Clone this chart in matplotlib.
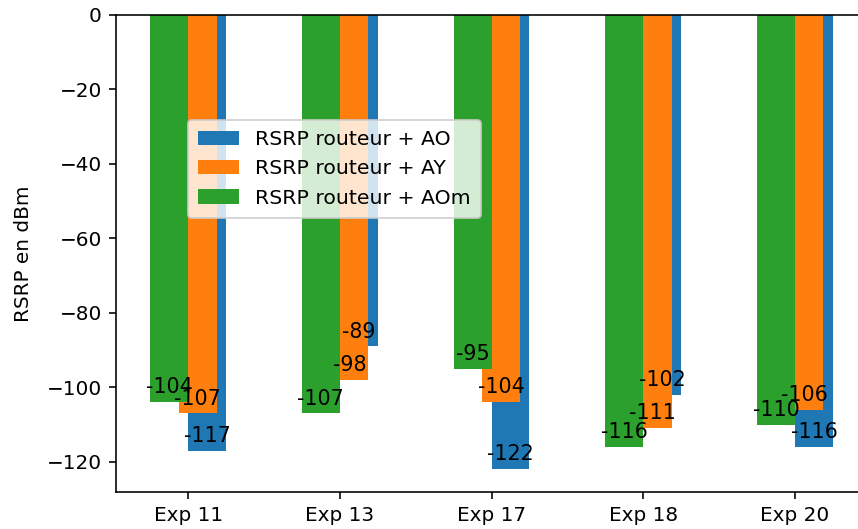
import numpy as np
import matplotlib
matplotlib.use("Agg")
import matplotlib.pyplot as plt

# experiments and RSRP values (dBm)
experiments = ["Exp 11", "Exp 13", "Exp 17", "Exp 18", "Exp 20"]
rsrp_ao = [-117, -89, -122, -102, -116]
rsrp_ay = [-107, -98, -104, -111, -106]
rsrp_aom = [-104, -107, -95, -116, -110]

width = 0.25

fig = plt.figure(figsize=(858 / 144, 529 / 144), dpi=144)
# axes extends a little past the right border (cropped in the reference)
ax = fig.add_axes([116 / 858, 37 / 529, 751 / 858, 477 / 529])

x = np.arange(len(experiments))

series = [
    (rsrp_ao, x + width / 2, "RSRP routeur + AO", "tab:blue"),
    (rsrp_ay, x + width / 4, "RSRP routeur + AY", "tab:orange"),
    (rsrp_aom, x - width / 2, "RSRP routeur + AOm", "tab:green"),
]

for vals, pos, label, color in series:
    ax.bar(pos, vals, width, label=label, color=color)
    for px, v in zip(pos, vals):
        ax.text(px, v + 4, str(v), ha="center", va="center", fontsize=10.3)

ax.set_xticks(x)
ax.set_xticklabels(experiments)
ax.set_ylabel("RSRP en dBm", labelpad=7)
ax.set_xlim(-0.475, 4.475)
ax.set_ylim(-128.1, 0)

ax.legend(loc="upper left", bbox_to_anchor=(72 / 751, 372 / 477), borderaxespad=0,
          prop={"size": 10.2}, borderpad=0.5)

fig.savefig("out.png", dpi=144)
